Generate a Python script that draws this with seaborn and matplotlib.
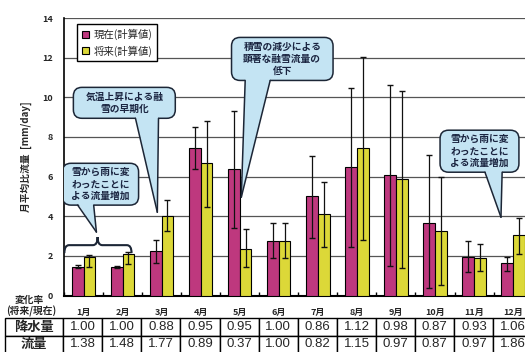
import numpy as np
import pandas as pd
import matplotlib
matplotlib.use("Agg")
import matplotlib.pyplot as plt
import seaborn as sns
from matplotlib.patches import FancyBboxPatch, Polygon, PathPatch
from matplotlib.path import Path

# --- データ ---
months = ['1月', '2月', '3月', '4月', '5月', '6月', '7月', '8月', '9月', '10月', '11月', '12月']
series_names = ['現在(計算値)', '将来(計算値)']

current = [1.45, 1.45, 2.24, 7.43, 6.39, 2.77, 5.00, 6.47, 6.09, 3.68, 1.95, 1.62]
current_lo = [1.38, 1.40, 1.65, 6.36, 3.41, 1.87, 2.92, 2.45, 1.50, 0.36, 1.20, 1.25]
current_hi = [1.52, 1.50, 2.82, 8.48, 9.32, 3.68, 7.06, 10.46, 10.63, 7.09, 2.75, 1.95]

future = [1.95, 2.07, 4.00, 6.67, 2.34, 2.77, 4.10, 7.45, 5.89, 3.24, 1.90, 3.04]
future_lo = [1.42, 1.60, 3.26, 4.46, 1.45, 1.87, 2.45, 2.79, 1.40, 0.53, 1.25, 2.09]
future_hi = [2.05, 2.20, 4.80, 8.79, 3.33, 3.68, 5.75, 12.05, 10.33, 5.97, 2.59, 3.93]

# 変化率 (将来/現在)
ratio_precip = ['1.00', '1.00', '0.88', '0.95', '0.95', '1.00', '0.86', '1.12', '0.98', '0.87', '0.93', '1.06']
ratio_flow = ['1.38', '1.48', '1.77', '0.89', '0.37', '1.00', '0.82', '1.15', '0.97', '0.87', '0.97', '1.86']

MAGENTA = '#d4227f'
YELLOW = '#f8f21c'
BUBBLE = '#c4e4f3'
EDGE = '#1c2636'
TXT = '#1a2440'

sns.set_theme(style='white')
plt.rcParams['font.family'] = ['Noto Sans CJK JP', 'DejaVu Sans']

df = pd.DataFrame({
    'month': months * 2,
    'series': [series_names[0]] * 12 + [series_names[1]] * 12,
    'value': current + future,
})

fig = plt.figure(figsize=(5.25, 3.52), dpi=100)
W, H = 525, 352
ax = fig.add_axes([64 / W, (H - 295.5) / H, 468.6 / W, 277.5 / H])

sns.barplot(data=df, x='month', y='value', hue='series', palette=[MAGENTA, YELLOW],
            width=0.6, edgecolor='black', linewidth=0.8, errorbar=None, ax=ax, zorder=3)

# エラーバー
for cont, val, lo, hi in zip(ax.containers, [current, future], [current_lo, future_lo], [current_hi, future_hi]):
    xs = [b.get_x() + b.get_width() / 2 for b in cont]
    v = np.array(val)
    yerr = [v - np.array(lo), np.array(hi) - v]
    ax.errorbar(xs, v, yerr=yerr, fmt='none', ecolor='#111111', elinewidth=0.9,
                capsize=2.5, capthick=1.0, zorder=4)

ax.set_xlim(-0.5, 11.5)
ax.set_ylim(0, 14)
ax.set_yticks(np.arange(0, 15, 2))
ax.yaxis.grid(True, color='#555555', linewidth=0.9, zorder=0)
ax.set_axisbelow(True)
ax.tick_params(axis='y', length=0, pad=8, labelsize=6.5)
for lab in ax.get_yticklabels():
    lab.set_fontweight('bold')
ax.set_xticks(range(12))
ax.set_xticklabels(months, fontsize=6.5, fontweight='bold')
ax.tick_params(axis='x', which='major', length=0, pad=9)
ax.set_xticks(np.arange(-0.5, 12, 1), minor=True)
ax.tick_params(axis='x', which='minor', direction='in', length=3, width=1, color='black', bottom=True)
ax.set_xlabel('')
ax.set_ylabel('月平均比流量  [mm/day]', fontsize=7, fontweight='bold', labelpad=7)
for s in ['top', 'right']:
    ax.spines[s].set_visible(False)
ax.spines['left'].set_color('black')
ax.spines['left'].set_linewidth(1.2)
ax.spines['bottom'].set_color('black')
ax.spines['bottom'].set_linewidth(1.5)

leg = ax.legend(loc='upper left', bbox_to_anchor=(0.028, 0.978), borderaxespad=0,
                frameon=True, fancybox=False, edgecolor='black', framealpha=1,
                handlelength=0.7, handleheight=0.7, handletextpad=0.4,
                borderpad=0.45, labelspacing=0.5, fontsize=7.5)
leg.get_frame().set_linewidth(1.0)
leg.set_zorder(8)


# --- 吹き出し ---
def callout(x0, x1, y0, y1, base, tip, text):
    box = FancyBboxPatch((x0, y0), x1 - x0, y1 - y0,
                         boxstyle='round,pad=0,rounding_size=0.22', mutation_aspect=1.97,
                         fc=BUBBLE, ec=EDGE, lw=1.1, zorder=6)
    ax.add_patch(box)
    tri = Polygon([(base[0], y0 + 0.1), (base[1], y0 + 0.1), tip], closed=True,
                  fc=BUBBLE, ec='none', zorder=7)
    ax.add_patch(tri)
    ax.plot([base[0], tip[0]], [y0, tip[1]], color=EDGE, lw=1.1, zorder=7, solid_capstyle='round')
    ax.plot([base[1], tip[0]], [y0, tip[1]], color=EDGE, lw=1.1, zorder=7, solid_capstyle='round')
    ax.text((x0 + x1) / 2, (y0 + y1) / 2, text, ha='center', va='center', fontsize=7,
            fontweight='bold', color=TXT, zorder=8, linespacing=1.25)


callout(-0.26, 2.35, 8.94, 10.5, (1.33, 1.92), (1.89, 4.2), '気温上昇による融\n雪の早期化')
callout(-0.54, 1.41, 4.56, 6.67, (-0.15, 0.26), (0.33, 3.2), '雪から雨に変\nわったことに\nよる流量増加')
callout(3.79, 6.39, 10.85, 13.02, (4.14, 4.78), (4.04, 4.96), '積雪の減少による\n顕著な融雪流量の\n低下')
callout(9.13, 11.15, 6.22, 8.34, (10.28, 10.72), (10.69, 3.95), '雪から雨に変\nわったことに\nよる流量増加')

# 中括弧
bx0, bx1, bc = -0.49, 1.23, 0.36
yb, ym, yt = 2.14, 2.54, 2.95
verts = [(bx0, yb), (bx0, ym), (bx0 + 0.12, ym),
         (bc - 0.12, ym), (bc, ym), (bc, yt),
         (bc, ym), (bc + 0.12, ym),
         (bx1 - 0.12, ym), (bx1, ym), (bx1, yb)]
codes = [Path.MOVETO, Path.CURVE3, Path.CURVE3,
         Path.LINETO, Path.CURVE3, Path.CURVE3,
         Path.CURVE3, Path.CURVE3,
         Path.LINETO, Path.CURVE3, Path.CURVE3]
ax.add_patch(PathPatch(Path(verts, codes), fc='none', ec=EDGE, lw=1.5, zorder=6))

# --- 変化率の表 ---
fig.text(29 / W, 1 - 300 / H, '変化率', ha='center', va='center', fontsize=7, fontweight='bold')
fig.text(31 / W, 1 - 311 / H, '(将来/現在)', ha='center', va='center', fontsize=7, fontweight='bold')

ax_w = 468.6
tab_left = (5 - 64) / ax_w
tab_w = (532.6 - 5) / ax_w
tab_top = (295.5 - 318) / 277.5
tab_bot = (295.5 - 353) / 277.5
col_w = [58 / 527.6] + [39.05 / 527.6] * 12
cells = [['降水量'] + ratio_precip, ['流量'] + ratio_flow]
table = ax.table(cellText=cells, colWidths=col_w, cellLoc='center',
                 bbox=[tab_left, tab_bot, tab_w, tab_top - tab_bot])
table.auto_set_font_size(False)
table.set_clip_on(False)
for (r, c), cell in table.get_celld().items():
    cell.set_edgecolor('black')
    cell.set_linewidth(1.0)
    cell.set_facecolor('white')
    t = cell.get_text()
    t.set_fontsize(9.5)
    if c == 0:
        t.set_fontweight('bold')
    else:
        t.set_fontfamily('Liberation Sans')

fig.savefig('out.png', dpi=100)
